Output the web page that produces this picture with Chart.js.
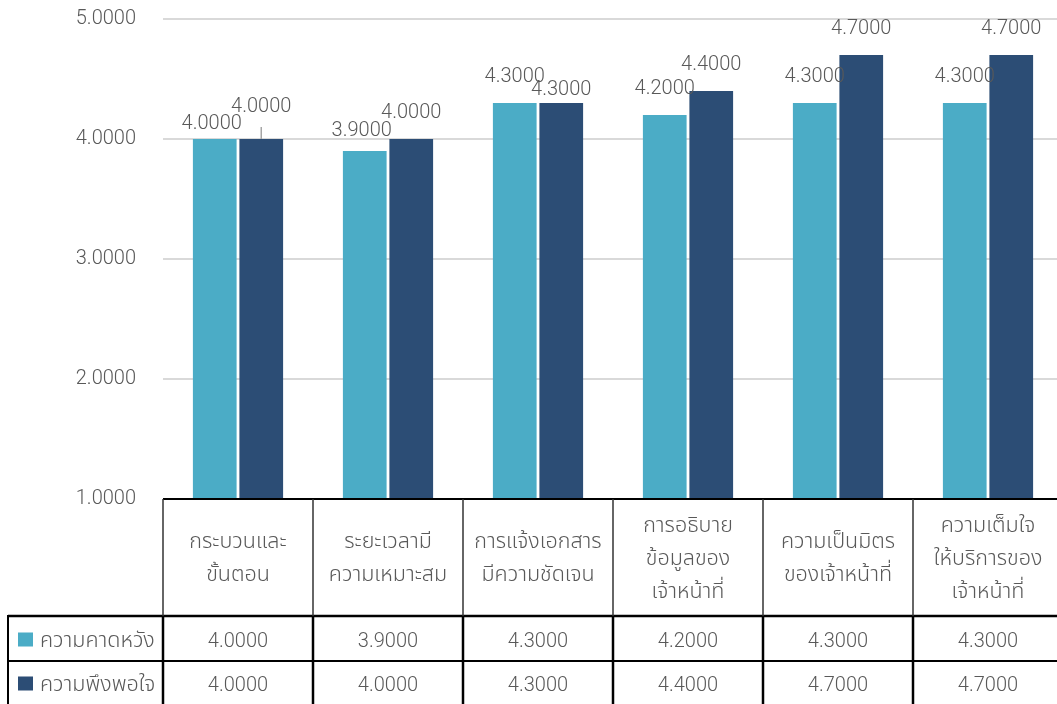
<!DOCTYPE html>
<html lang="th">
<head>
<meta charset="utf-8">
<title>ความคาดหวังและความพึงพอใจ</title>
<script src="https://cdn.jsdelivr.net/npm/chart.js@4/dist/chart.umd.min.js"></script>
<style>
  html, body { margin: 0; padding: 0; background: #ffffff; overflow: hidden; }
  #wrap { position: relative; width: 1063px; height: 704px; }
  canvas { display: block; }
</style>
</head>
<body>
<div id="wrap"><canvas id="chart" width="1063" height="704"></canvas></div>
<script>
// Survey topics (each entry is split into the lines shown in the table header)
const categories = [
  ["กระบวนและ", "ขั้นตอน"],
  ["ระยะเวลามี", "ความเหมาะสม"],
  ["การแจ้งเอกสาร", "มีความชัดเจน"],
  ["การอธิบาย", "ข้อมูลของ", "เจ้าหน้าที่"],
  ["ความเป็นมิตร", "ของเจ้าหน้าที่"],
  ["ความเต็มใจ", "ให้บริการของ", "เจ้าหน้าที่"]
];
const seriesNames = ["ความคาดหวัง", "ความพึงพอใจ"];
const expectation = [4.0, 3.9, 4.3, 4.2, 4.3, 4.3];
const satisfaction = [4.0, 4.0, 4.3, 4.4, 4.7, 4.7];
const yMin = 1;
const yMax = 5;
const yStep = 1;

const COLORS = ["#4BACC6", "#2C4D75"];
const TEXT = "#595959";
const FONT = "Roboto, 'Noto Sans', 'Noto Sans Thai', 'Leelawadee UI', Tahoma, sans-serif";
const FONT_SIZE = 20;
const FONT_WEIGHT = 300;
const CSS_FONT = `${FONT_WEIGHT} ${FONT_SIZE}px ${FONT}`;
const THAI_FONT = `${FONT_WEIGHT} 21.5px ${FONT}`;

// Value-label placement: centre of the text relative to the top of its bar
const LABEL_DY = -26;
const labelTweaks = {
  "0-0": { dx: -3, dy: -15 },
  "0-1": { dx: -3, dy: -20 },
  "1-0": { dx: 0, dy: -32, leader: true },
  "1-2": { dx: 0, dy: -13 }
};

const fmt = v => Number(v).toFixed(4);

// Draws the value above every bar
const valueLabels = {
  id: 'valueLabels',
  afterDatasetsDraw(chart) {
    const ctx = chart.ctx;
    ctx.save();
    ctx.font = CSS_FONT;
    ctx.fillStyle = TEXT;
    ctx.textAlign = 'center';
    ctx.textBaseline = 'middle';
    chart.data.datasets.forEach((ds, di) => {
      const meta = chart.getDatasetMeta(di);
      meta.data.forEach((bar, i) => {
        const t = labelTweaks[di + '-' + i] || {};
        const dx = t.dx || 0;
        const dy = t.dy !== undefined ? t.dy : LABEL_DY;
        if (t.leader) {
          ctx.save();
          ctx.strokeStyle = '#a6a6a6';
          ctx.lineWidth = 1.5;
          ctx.beginPath();
          ctx.moveTo(bar.x, bar.y - 12);
          ctx.lineTo(bar.x, bar.y);
          ctx.stroke();
          ctx.restore();
        }
        ctx.fillText(fmt(ds.data[i]), bar.x + dx, bar.y + dy);
      });
    });
    ctx.restore();
  }
};

// Draws the data table (category header, legend keys and values) under the plot
const dataTable = {
  id: 'dataTable',
  afterDraw(chart) {
    const { ctx, chartArea, scales } = chart;
    const xs = scales.x;
    const n = categories.length;
    const colW = (chartArea.right - chartArea.left) / n;
    const top = chartArea.bottom;
    const headerBottom = top + 117;
    const row1Bottom = headerBottom + 45;
    const bottom = chart.height;
    const legendLeft = 8;
    const tableLeft = chartArea.left;
    const right = chartArea.right;
    const colLeft = i => xs.getPixelForValue(i) - colW / 2;

    ctx.save();
    const line = (x1, y1, x2, y2, w, c) => {
      ctx.beginPath();
      ctx.lineWidth = w;
      ctx.strokeStyle = c;
      ctx.moveTo(x1, y1);
      ctx.lineTo(x2, y2);
      ctx.stroke();
    };

    // header text
    ctx.font = THAI_FONT;
    ctx.fillStyle = TEXT;
    ctx.textAlign = 'center';
    ctx.textBaseline = 'middle';
    const lh = 33;
    const headerMid = (top + headerBottom) / 2 + 2;
    categories.forEach((lines, i) => {
      const cx = xs.getPixelForValue(i);
      const y0 = headerMid - (lines.length - 1) * lh / 2;
      lines.forEach((s, k) => ctx.fillText(s, cx, y0 + k * lh));
    });

    // values
    ctx.font = CSS_FONT;
    const rows = [expectation, satisfaction];
    const rowMids = [(headerBottom + row1Bottom) / 2 + 3, (row1Bottom + bottom) / 2 + 3];
    rows.forEach((vals, r) => {
      vals.forEach((v, i) => ctx.fillText(fmt(v), xs.getPixelForValue(i), rowMids[r]));
    });

    // legend keys
    ctx.font = THAI_FONT;
    ctx.textAlign = 'left';
    seriesNames.forEach((name, r) => {
      ctx.fillStyle = COLORS[r];
      ctx.fillRect(legendLeft + 10, rowMids[r] - 9, 15, 14);
      ctx.fillStyle = TEXT;
      ctx.fillText(name, legendLeft + 32, rowMids[r]);
    });

    // grid of the table
    line(tableLeft, top, right + 2, top, 2, '#000');
    line(legendLeft, headerBottom, right + 2, headerBottom, 2.5, '#000');
    line(legendLeft, row1Bottom, right + 2, row1Bottom, 2, '#000');
    line(legendLeft, headerBottom - 1, legendLeft, bottom, 2, '#000');
    for (let i = 0; i <= n; i++) {
      const x = i < n ? colLeft(i) : right;
      line(x, top, x, headerBottom, 1.5, '#333');
      line(x, headerBottom, x, bottom, 2.5, '#000');
    }
    ctx.restore();
  }
};

new Chart(document.getElementById('chart'), {
  type: 'bar',
  data: {
    labels: categories,
    datasets: [
      { label: seriesNames[0], data: expectation, backgroundColor: COLORS[0] },
      { label: seriesNames[1], data: satisfaction, backgroundColor: COLORS[1] }
    ]
  },
  options: {
    responsive: false,
    animation: false,
    devicePixelRatio: 1,
    categoryPercentage: 0.62,
    barPercentage: 0.94,
    layout: { padding: { top: 19, bottom: 205, left: 0, right: 0 } },
    plugins: {
      legend: { display: false },
      tooltip: { enabled: false }
    },
    scales: {
      x: { display: false },
      y: {
        min: yMin,
        max: yMax,
        afterFit(scale) { scale.width = 163; },
        border: { display: false },
        grid: {
          color: '#d9d9d9',
          lineWidth: 2,
          drawTicks: true,
          tickLength: 27,
          tickColor: 'rgba(0,0,0,0)'
        },
        ticks: {
          stepSize: yStep,
          padding: 0,
          color: TEXT,
          font: { family: FONT, size: FONT_SIZE, weight: FONT_WEIGHT },
          callback: v => fmt(v)
        }
      }
    }
  },
  plugins: [valueLabels, dataTable]
});
</script>
</body>
</html>
